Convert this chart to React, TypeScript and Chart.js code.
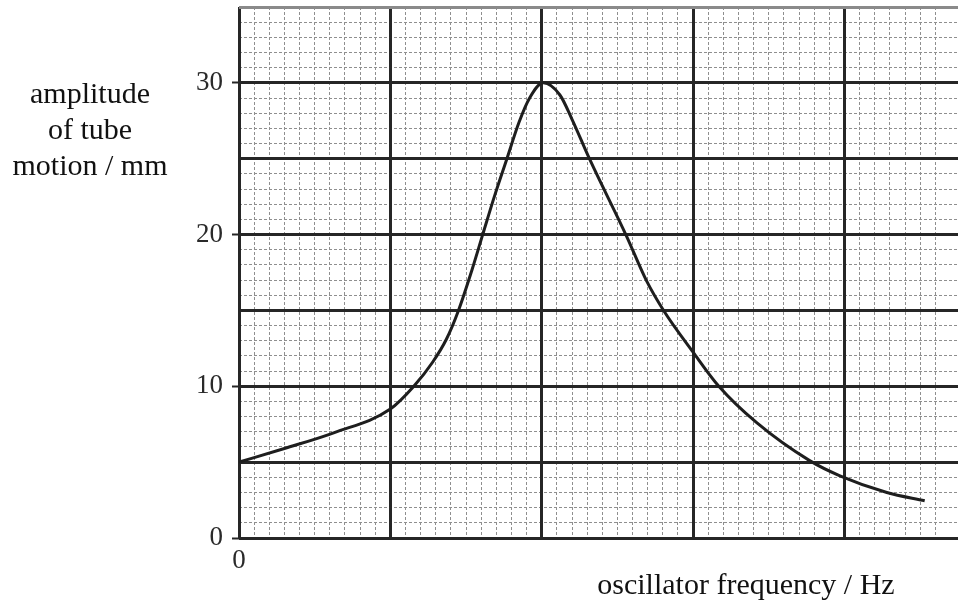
import React, { useEffect, useRef } from "react";
import { Chart, registerables } from "chart.js";

Chart.register(...registerables);

// oscillator frequency (arbitrary grid units, no numeric labels in the original)
const frequency = [0, 3, 6.3, 10, 11.55, 12.8, 13.7, 14.5, 15.4, 16.1, 16.9, 17.7, 18.5, 19.2, 20.1, 21.2, 22.0, 23.15, 25.6, 26.9, 28.05, 30, 31.7, 34.2, 37.7, 39.7, 42.8, 45.3];
// amplitude of tube motion / mm
const amplitude = [5.0, 5.9, 6.95, 8.5, 10.0, 11.6, 13.1, 15.0, 17.7, 20.0, 22.6, 25.0, 27.4, 29.0, 30.0, 29.2, 27.6, 25.0, 19.9, 17.0, 15.0, 12.25, 10.0, 7.6, 5.1, 4.1, 3.0, 2.45];

const yTickLabels = [0, 10, 20, 30];
const xTickLabels = [0];
const X_MAX = 47.5;
const Y_MAX = 35;
const xTitle = "oscillator frequency / Hz";
const yTitleLines = ["amplitude", "of tube", "motion / mm"];

const SERIF = "'Liberation Serif', 'Times New Roman', serif";
const MINOR = "#8f8f8f";
const MAJOR = "#262626";
const NONE = "rgba(0,0,0,0)";

const noPad = (s: any) => {
  s.paddingTop = 0;
  s.paddingBottom = 0;
  s.paddingLeft = 0;
  s.paddingRight = 0;
};

export default function App() {
  const ref = useRef<HTMLCanvasElement>(null);

  useEffect(() => {
    if (!ref.current) return;
    const chart = new Chart(ref.current, {
      type: "scatter",
      data: {
        datasets: [
          {
            data: frequency.map((x, i) => ({ x, y: amplitude[i] })),
            showLine: true,
            borderColor: "#1e1e1e",
            borderWidth: 3,
            pointRadius: 0,
            cubicInterpolationMode: "monotone",
            fill: false,
            xAxisID: "x",
            yAxisID: "y",
          } as any,
        ],
      },
      options: {
        animation: false,
        responsive: false,
        events: [],
        layout: { padding: { top: 7, left: 0, right: 0, bottom: 0 } },
        plugins: { legend: { display: false }, tooltip: { enabled: false } },
        scales: {
          x: {
            type: "linear",
            axis: "x",
            position: "bottom",
            min: 0,
            max: X_MAX,
            ticks: { display: false, stepSize: 1, autoSkip: false },
            grid: {
              drawTicks: false,
              color: (c: any) => (c.tick && Number.isInteger(c.tick.value) ? MINOR : NONE),
              lineWidth: 1,
            },
            border: { display: false, dash: [3, 2] },
            afterFit: (s: any) => {
              s.height = 0;
              noPad(s);
            },
          },
          y: {
            type: "linear",
            axis: "y",
            position: "left",
            min: 0,
            max: Y_MAX,
            ticks: { display: false, stepSize: 1, autoSkip: false },
            grid: {
              drawTicks: false,
              color: (c: any) => (c.tick && Number.isInteger(c.tick.value) ? MINOR : NONE),
              lineWidth: 1,
            },
            border: { display: false, dash: [3, 2] },
            afterFit: (s: any) => {
              s.width = 0;
              noPad(s);
            },
          },
          xMajor: {
            type: "linear",
            axis: "x",
            position: "bottom",
            min: 0,
            max: X_MAX,
            ticks: {
              stepSize: 10,
              autoSkip: false,
              maxRotation: 0,
              padding: 7,
              color: "#2a2a2a",
              font: { family: SERIF, size: 27 },
              callback: (v: any) => (xTickLabels.includes(Number(v)) ? String(v) : ""),
            },
            grid: {
              drawTicks: false,
              color: (c: any) => (c.tick && c.tick.value % 10 === 0 ? MAJOR : NONE),
              lineWidth: 3,
            },
            border: { display: false },
            afterFit: (s: any) => {
              s.height = 77;
              noPad(s);
            },
          },
          yMajor: {
            type: "linear",
            axis: "y",
            position: "left",
            min: 0,
            max: Y_MAX,
            ticks: {
              stepSize: 5,
              autoSkip: false,
              padding: 9,
              color: "#2a2a2a",
              font: { family: SERIF, size: 27 },
              callback: (v: any) => (yTickLabels.includes(Number(v)) ? String(v) : ""),
            },
            grid: {
              drawTicks: true,
              tickLength: 7,
              tickWidth: 2,
              tickColor: (c: any) => (c.tick && yTickLabels.includes(c.tick.value) ? MAJOR : NONE),
              color: (c: any) =>
                c.tick && c.tick.value % 5 === 0 ? (c.tick.value === Y_MAX ? "#8a8a8a" : MAJOR) : NONE,
              lineWidth: 3,
            },
            border: { display: false },
            afterFit: (s: any) => {
              s.width = 239;
              noPad(s);
            },
          },
        },
      } as any,
    });
    return () => chart.destroy();
  }, []);

  return (
    <div style={{ position: "absolute", left: 0, top: 0, width: 958, height: 615, background: "#fff" }}>
      <canvas ref={ref} width={958} height={615} style={{ position: "absolute", left: 0, top: 0 }} />
      <div
        style={{
          position: "absolute",
          left: 0,
          top: 75,
          width: 180,
          textAlign: "center",
          fontFamily: SERIF,
          fontSize: 30,
          lineHeight: "36px",
          color: "#111",
        }}
      >
        {yTitleLines.map((l) => (
          <div key={l}>{l}</div>
        ))}
      </div>
      <div
        style={{
          position: "absolute",
          left: 546,
          top: 566,
          width: 400,
          textAlign: "center",
          fontFamily: SERIF,
          fontSize: 30,
          lineHeight: "35px",
          color: "#111",
          whiteSpace: "nowrap",
        }}
      >
        {xTitle}
      </div>
    </div>
  );
}
